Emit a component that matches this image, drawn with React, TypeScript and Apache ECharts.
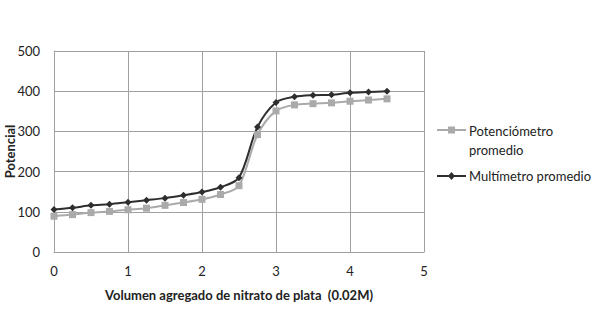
import React, { useEffect, useRef } from "react";
import * as echarts from "echarts";

const volumes = [0, 0.25, 0.5, 0.75, 1, 1.25, 1.5, 1.75, 2, 2.25, 2.5, 2.75, 3, 3.25, 3.5, 3.75, 4, 4.25, 4.5];
const potenciometro = [89, 93, 98, 101, 105, 109, 116, 123, 131, 143, 165, 292, 351, 366, 369, 371, 375, 378, 381];
const multimetro = [106, 110, 116, 119, 124, 129, 134, 141, 149, 161, 185, 311, 372, 386, 390, 391, 396, 398, 400];

const seriesNames = ["Potenciómetro\npromedio", "Multímetro promedio"];
const xAxisName = "Volumen agregado de nitrato de plata  (0.02M)";
const yAxisName = "Potencial";

const FONT = "Lato, 'Open Sans', sans-serif";
const GRAY = "#aaaaaa";
const DARK = "#2e2e2e";

export default function App() {
  const ref = useRef<HTMLDivElement>(null);
  useEffect(() => {
    if (!ref.current) return;
    const chart = echarts.init(ref.current, undefined, { renderer: "svg" });
    const lx = 437;
    const lw = 29;
    const tx = 469;
    const y1 = 130;
    const y2 = 176;
    chart.setOption({
      animation: false,
      backgroundColor: "#ffffff",
      textStyle: { fontFamily: FONT, color: "#222" },
      grid: { left: 54, right: 171, top: 51, bottom: 57, containLabel: false, outerBoundsMode: "none" },
      legend: { show: false, data: seriesNames },
      graphic: [
        { type: "line", shape: { x1: lx, y1: y1, x2: lx + lw, y2: y1 }, style: { stroke: GRAY, lineWidth: 2 } },
        { type: "rect", shape: { x: lx + lw / 2 - 3.5, y: y1 - 3.5, width: 7, height: 7 }, style: { fill: GRAY } },
        {
          type: "text",
          x: tx,
          y: y1 - 9,
          style: { text: seriesNames[0], font: `13px ${FONT}`, fill: "#222", lineHeight: 19, verticalAlign: "top" },
        },
        { type: "line", shape: { x1: lx, y1: y2, x2: lx + lw, y2: y2 }, style: { stroke: DARK, lineWidth: 2 } },
        {
          type: "polygon",
          shape: { points: [[lx + lw / 2, y2 - 4], [lx + lw / 2 + 3.5, y2], [lx + lw / 2, y2 + 4], [lx + lw / 2 - 3.5, y2]] },
          style: { fill: DARK },
        },
        {
          type: "text",
          x: tx,
          y: y2,
          style: { text: seriesNames[1], font: `13px ${FONT}`, fill: "#222", verticalAlign: "middle" },
        },
      ],
      xAxis: {
        type: "value",
        min: 0,
        max: 5,
        interval: 1,
        name: xAxisName,
        nameLocation: "middle",
        nameGap: 36,
        nameMoveOverlap: false,
        nameTextStyle: { fontFamily: FONT, fontSize: 13, fontWeight: "bold", color: "#222" },
        axisLine: { show: true, lineStyle: { color: "#a0a0a0" } },
        axisTick: { show: false },
        axisLabel: { fontFamily: FONT, fontSize: 13, color: "#222", margin: 12 },
        splitLine: { show: true, lineStyle: { color: "#a0a0a0", width: 1 } },
      },
      yAxis: {
        type: "value",
        min: 0,
        max: 500,
        interval: 100,
        name: yAxisName,
        nameLocation: "middle",
        nameGap: 38,
        nameMoveOverlap: false,
        nameTextStyle: { fontFamily: FONT, fontSize: 13, fontWeight: "bold", color: "#222" },
        axisLine: { show: true, lineStyle: { color: "#a0a0a0" } },
        axisTick: { show: false },
        axisLabel: { fontFamily: FONT, fontSize: 13, color: "#222", margin: 14 },
        splitLine: { show: true, lineStyle: { color: "#a0a0a0", width: 1 } },
      },
      series: [
        {
          name: seriesNames[0],
          type: "line",
          smooth: 0.3,
          data: volumes.map((v, i) => [v, potenciometro[i]]),
          symbol: "rect",
          symbolSize: 7,
          itemStyle: { color: GRAY },
          lineStyle: { color: GRAY, width: 2 },
        },
        {
          name: seriesNames[1],
          type: "line",
          smooth: 0.3,
          data: volumes.map((v, i) => [v, multimetro[i]]),
          symbol: "diamond",
          symbolSize: 7,
          itemStyle: { color: DARK },
          lineStyle: { color: DARK, width: 2 },
        },
      ],
    });
    return () => chart.dispose();
  }, []);
  return (
    <div
      ref={ref}
      style={{ position: "fixed", left: 0, top: 0, width: 595, height: 309, background: "#fff" }}
    />
  );
}
